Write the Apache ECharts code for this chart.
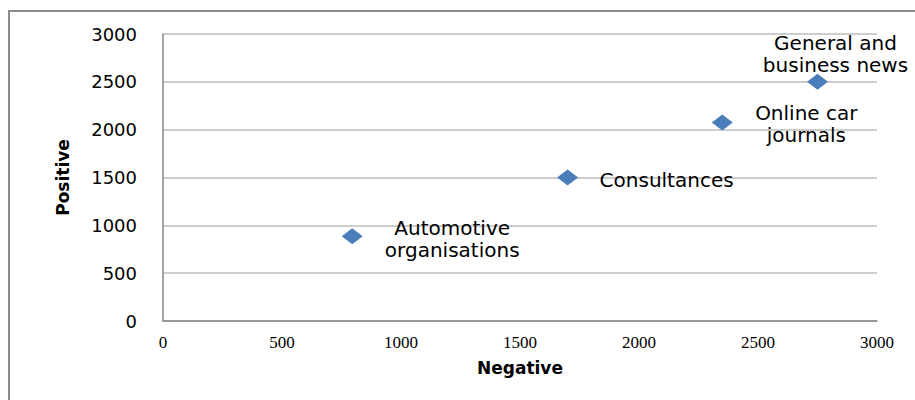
<!DOCTYPE html>
<html>
<head>
<meta charset="utf-8">
<script src="https://cdn.jsdelivr.net/npm/echarts@6/dist/echarts.min.js"></script>
<style>
    html, body { margin: 0; padding: 0; background: #fff; }
    #container { width: 915px; height: 400px; }
</style>
</head>
<body>
<div id="container"></div>
<script>
let chart = echarts.init(document.getElementById('container'), null, {renderer: 'svg'});

// point names, x = Negative, y = Positive
var names = ['Automotive\norganisations', 'Consultances', 'Online car\njournals', 'General and\nbusiness news'];
var negative = [795, 1700, 2350, 2750];
var positive = [885, 1500, 2075, 2500];
var xTicks = [0, 500, 1000, 1500, 2000, 2500, 3000];
var yTicks = [0, 500, 1000, 1500, 2000, 2500, 3000];

// where each label sits relative to its marker
var labelOffsets = [[100, 3], [99, 2], [84, 2], [18, -28]];

var points = names.map((name, i) => {
    return {
        name: name,
        value: [negative[i], positive[i]],
        label: {offset: labelOffsets[i]},
    };
});

var option = {
    animation: false,
    grid: {
        left: 163,
        right: 38,
        top: 34,
        bottom: 79,
    },
    graphic: [{
        type: 'rect',
        shape: {x: 9, y: 11, width: 1000, height: 500},
        style: {fill: 'none', stroke: '#8c8c8c', lineWidth: 2},
        silent: true,
    }],
    xAxis: {
        type: 'value',
        min: xTicks[0],
        max: xTicks[xTicks.length - 1],
        interval: xTicks[1] - xTicks[0],
        name: 'Negative',
        nameLocation: 'middle',
        nameGap: 38,
        nameTextStyle: {
            fontFamily: 'DejaVu Sans',
            fontWeight: 'bold',
            fontSize: 17,
            color: '#000',
        },
        axisLine: {show: true, lineStyle: {color: '#868686', width: 1.5}},
        axisTick: {show: false},
        splitLine: {show: false},
        axisLabel: {
            margin: 13,
            fontFamily: 'Liberation Serif',
            fontSize: 17,
            color: '#000',
            formatter: value => String(value),
        },
    },
    yAxis: {
        type: 'value',
        min: yTicks[0],
        max: yTicks[yTicks.length - 1],
        interval: yTicks[1] - yTicks[0],
        name: 'Positive',
        nameLocation: 'middle',
        nameGap: 92,
        nameTextStyle: {
            fontFamily: 'DejaVu Sans',
            fontWeight: 'bold',
            fontSize: 17,
            color: '#000',
        },
        axisLine: {show: true, lineStyle: {color: '#868686', width: 1.5}},
        axisTick: {show: false},
        splitLine: {show: true, lineStyle: {color: '#bdbdbd', width: 1.5}},
        axisLabel: {
            margin: 26,
            fontFamily: 'DejaVu Sans',
            fontSize: 18,
            color: '#000',
            formatter: value => String(value),
        },
    },
    series: [{
        type: 'scatter',
        symbol: 'diamond',
        symbolSize: [21, 16],
        itemStyle: {color: '#4a7ebb', opacity: 1},
        label: {
            show: true,
            position: 'inside',
            align: 'center',
            verticalAlign: 'middle',
            formatter: params => params.name,
            fontFamily: 'DejaVu Sans',
            fontSize: 20,
            lineHeight: 22,
            color: '#000',
            opacity: 1,
            textBorderWidth: 0,
        },
        data: points,
    }],
};

chart.setOption(option);
</script>
</body>
</html>
